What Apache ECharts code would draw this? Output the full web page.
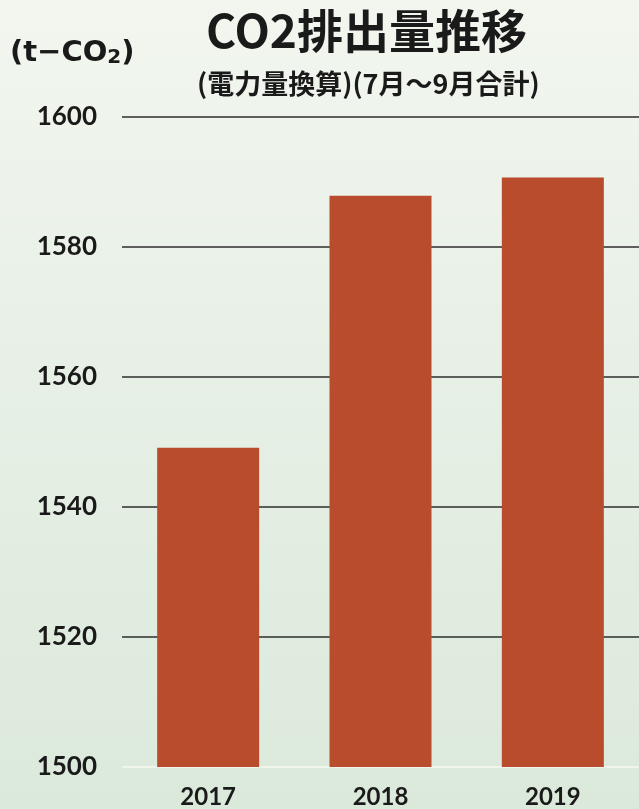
<!DOCTYPE html>
<html>
<head>
<meta charset="utf-8">
<script src="https://cdn.jsdelivr.net/npm/echarts@6/dist/echarts.min.js"></script>
<style>
  html, body { margin: 0; padding: 0; }
  #main { width: 639px; height: 809px; }
</style>
</head>
<body>
<div id="main"></div>
<script>
  // data
  const years = ['2017', '2018', '2019'];
  const co2Values = [1549.1, 1587.9, 1590.7];
  const yTicks = [1500, 1520, 1540, 1560, 1580, 1600];

  const titleText = 'CO2排出量推移';
  const subText = '(電力量換算)(7月～9月合計)';

  const numFont = 'Lato';
  const cjkFont = '"Noto Sans CJK JP"';

  let chart = echarts.init(document.getElementById('main'));

  // baseline light, other grid lines dark
  let splitColors = yTicks.map((v, i) => i === 0 ? '#f7f8f2' : '#2e2e2e');

  let option = {
    animation: false,
    backgroundColor: new echarts.graphic.LinearGradient(0, 0, 0, 1, [
      { offset: 0, color: '#f2f6ef' },
      { offset: 1, color: '#dbe9db' }
    ]),
    title: [
      {
        text: titleText,
        left: 201,
        top: 3,
        textStyle: { fontFamily: cjkFont, fontWeight: 'bold', fontSize: 46, color: '#1a1a1a' }
      },
      {
        text: subText,
        left: 192,
        top: 65,
        textStyle: { fontFamily: cjkFont, fontWeight: 'bold', fontSize: 27, color: '#1a1a1a' }
      },
      {
        text: '{a|(t−CO}{b|2}{a|)}',
        left: 5,
        top: 33,
        textStyle: {
          rich: {
            a: { fontFamily: 'DejaVu Sans', fontWeight: 'bold', fontSize: 29, color: '#1a1a1a' },
            b: { fontFamily: 'DejaVu Sans', fontWeight: 'bold', fontSize: 20, color: '#1a1a1a', padding: [10, 0, 0, 0] }
          }
        }
      }
    ],
    grid: {
      left: 122,
      top: 117,
      width: 521,
      bottom: 42
    },
    xAxis: {
      type: 'category',
      data: years,
      axisLine: { show: false },
      axisTick: { show: false },
      axisLabel: {
        margin: 18,
        fontFamily: numFont,
        fontWeight: 'bold',
        fontSize: 24,
        color: '#1a1a1a'
      }
    },
    yAxis: {
      type: 'value',
      min: yTicks[0],
      max: yTicks[yTicks.length - 1],
      interval: 20,
      axisLine: { show: false },
      axisTick: { show: false },
      axisLabel: {
        margin: 25,
        fontFamily: numFont,
        fontWeight: 'bold',
        fontSize: 26,
        color: '#1a1a1a',
        formatter: v => String(v)
      },
      splitLine: {
        lineStyle: { color: splitColors, width: 1.5 }
      }
    },
    series: [
      {
        type: 'bar',
        data: co2Values,
        barWidth: 102,
        itemStyle: { color: '#b94c2d' }
      }
    ]
  };

  chart.setOption(option);
</script>
</body>
</html>
